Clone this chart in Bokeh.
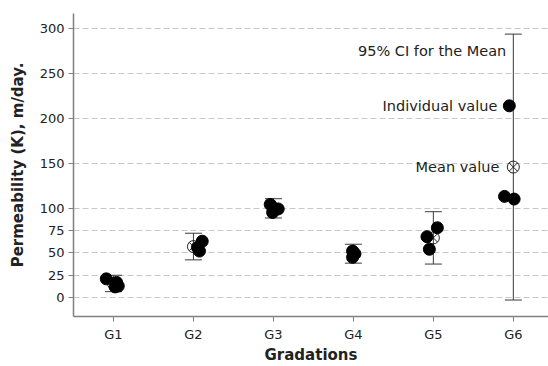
from bokeh.plotting import figure
from bokeh.models import ColumnDataSource, FixedTicker, Label, Whisker, TeeHead
from bokeh.embed import file_html
from bokeh.resources import INLINE

# Gradation groups and their measured permeability values (m/day)
categories = ["G1", "G2", "G3", "G4", "G5", "G6"]
individual_values = [
    [21, 17, 13, 12],
    [63, 52, 56],
    [104, 99, 95, 100],
    [52, 49, 45],
    [78, 68, 54],
    [214, 113, 110],
]
# small horizontal spread so overlapping samples stay visible
jitter = [
    [-0.09, 0.04, 0.06, 0.02],
    [0.11, 0.075, 0.05],
    [-0.04, 0.06, -0.01, 0.0],
    [-0.01, 0.02, -0.01],
    [0.05, -0.08, -0.05],
    [-0.05, -0.11, 0.01],
]
mean_values = [15.8, 57.0, 99.5, 48.7, 66.7, 145.7]
ci_low = [6.7, 42.2, 88.9, 38.5, 37.5, -2.6]
ci_high = [25.0, 71.9, 110.4, 59.6, 95.9, 294.0]
y_ticks = [0, 25, 50, 75, 100, 150, 200, 250, 300]

FONT = "DejaVu Sans"
TEXT = "#222222"
AXIS = "#808080"

pos = list(range(1, len(categories) + 1))

p = figure(
    width=548, height=366,
    x_range=(0.5, 6.44), y_range=(-21, 317),
    output_backend="svg", toolbar_location=None,
    min_border_left=73, min_border_top=13, min_border_right=0, min_border_bottom=50,
)
p.outline_line_color = None
p.background_fill_color = "white"
p.border_fill_color = "white"

# confidence intervals
ci_src = ColumnDataSource(dict(x=pos, lo=ci_low, hi=ci_high))
whisk = Whisker(
    base="x", lower="lo", upper="hi", source=ci_src, dimension="height",
    line_color="#3a3a3a", line_width=1,
    upper_head=TeeHead(size=17, line_color="#3a3a3a", line_width=1),
    lower_head=TeeHead(size=17, line_color="#3a3a3a", line_width=1),
)
p.add_layout(whisk)

# mean markers
p.scatter(pos, mean_values, marker="circle_x", size=12,
          fill_color=None, line_color="#222222", line_width=1)

# individual samples
xs, ys = [], []
for i, (vals, offs) in enumerate(zip(individual_values, jitter)):
    for v, o in zip(vals, offs):
        xs.append(pos[i] + o)
        ys.append(v)
p.scatter(xs, ys, marker="circle", size=12, fill_color="black", line_color="black")

# annotations next to G6
g6 = pos[-1]
p.add_layout(Label(x=g6, y=ci_high[-1], text="95% CI for the Mean", text_align="right",
                   text_baseline="middle", x_offset=-7, y_offset=-17,
                   text_font=FONT, text_font_size="14.5px", text_color=TEXT))
p.add_layout(Label(x=g6, y=individual_values[-1][0], text="Individual value", text_align="right",
                   text_baseline="middle", x_offset=-16,
                   text_font=FONT, text_font_size="14.5px", text_color=TEXT))
p.add_layout(Label(x=g6, y=mean_values[-1], text="Mean value", text_align="right",
                   text_baseline="middle", x_offset=-14,
                   text_font=FONT, text_font_size="14.5px", text_color=TEXT))

# axes
p.xaxis.ticker = FixedTicker(ticks=pos)
p.xaxis.major_label_overrides = {i: c for i, c in zip(pos, categories)}
p.yaxis.ticker = FixedTicker(ticks=y_ticks)
for ax in (p.xaxis[0], p.yaxis[0]):
    ax.axis_line_color = AXIS
    ax.axis_line_width = 1.5
    ax.major_tick_line_color = AXIS
    ax.major_tick_in = 0
    ax.major_tick_out = 5
    ax.minor_tick_line_color = None
    ax.major_label_text_font = FONT
    ax.major_label_text_font_size = "13px"
    ax.major_label_text_color = TEXT
    ax.axis_label_text_font = FONT
    ax.axis_label_text_font_size = "15px"
    ax.axis_label_text_font_style = "bold"
    ax.axis_label_text_color = TEXT

p.xaxis.axis_label = "Gradations"
p.yaxis.axis_label = "Permeability (K), m/day."
p.xaxis.major_label_standoff = 5
p.xaxis.axis_label_standoff = 1
p.yaxis.major_label_standoff = 4
p.yaxis.axis_label_standoff = 10

p.xgrid.grid_line_color = None
p.ygrid.grid_line_color = "#c8c8c8"
p.ygrid.grid_line_dash = "6 3"
p.ygrid.grid_line_width = 1

open("out.html", "w").write(file_html(p, INLINE))
